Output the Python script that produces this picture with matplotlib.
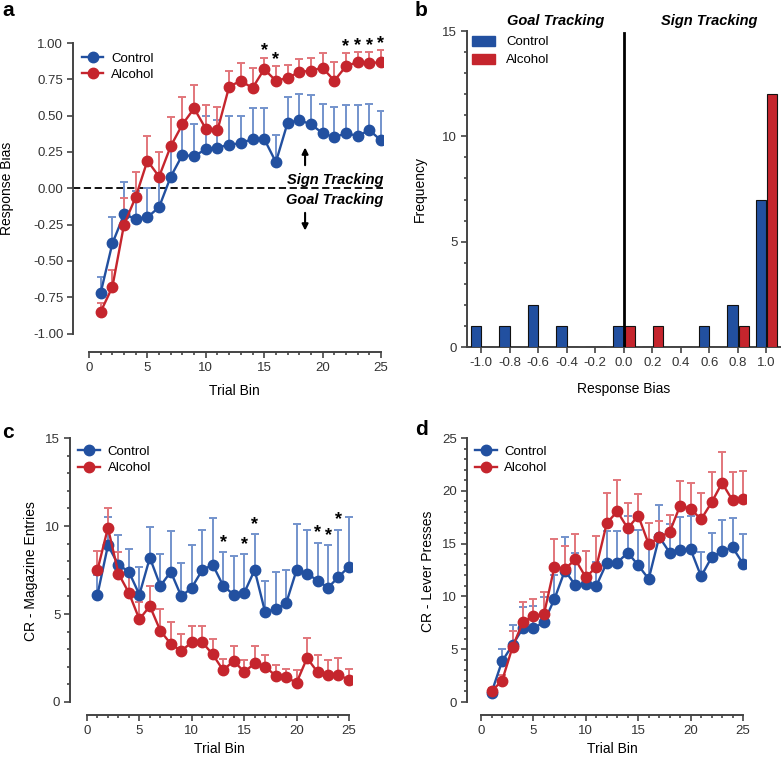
import numpy as np
import matplotlib
matplotlib.use("Agg")
import matplotlib.pyplot as plt
from matplotlib.ticker import MultipleLocator, FixedLocator
from matplotlib.patches import Patch

plt.rcParams['font.family'] = ['Liberation Sans', 'DejaVu Sans']

# colours
BLUE = '#2250a0'
BLUE_LIGHT = '#7393cc'
RED = '#c5252d'
RED_LIGHT = '#e2767b'
AXIS = '#444444'

trial_bins = np.arange(1, 26)

# panel a - response bias over trial bins (mean and top of the error bar)
bias_control = [-0.72, -0.38, -0.18, -0.21, -0.20, -0.13, 0.08, 0.23, 0.22, 0.27,
                0.28, 0.30, 0.31, 0.34, 0.34, 0.18, 0.45, 0.47, 0.44, 0.38,
                0.35, 0.38, 0.36, 0.40, 0.33]
bias_control_top = [-0.61, -0.20, 0.04, -0.02, 0.00, 0.07, 0.29, 0.45, 0.44, 0.50,
                    0.47, 0.50, 0.50, 0.55, 0.55, 0.37, 0.63, 0.65, 0.64, 0.58,
                    0.56, 0.57, 0.57, 0.58, 0.53]
bias_alcohol = [-0.85, -0.68, -0.25, -0.06, 0.19, 0.08, 0.29, 0.44, 0.55, 0.41,
                0.40, 0.70, 0.74, 0.69, 0.82, 0.74, 0.76, 0.80, 0.81, 0.83,
                0.74, 0.84, 0.87, 0.86, 0.87]
bias_alcohol_top = [-0.79, -0.56, -0.07, 0.11, 0.36, 0.25, 0.49, 0.63, 0.71, 0.57,
                    0.56, 0.81, 0.86, 0.83, 0.90, 0.84, 0.85, 0.89, 0.90, 0.93,
                    0.87, 0.93, 0.94, 0.94, 0.95]
bias_stars = [15, 16, 22, 23, 24, 25]

# panel b - histogram of response bias
bias_bins = [-1.0, -0.8, -0.6, -0.4, -0.2, 0.0, 0.2, 0.4, 0.6, 0.8, 1.0]
freq_control = [1, 1, 2, 1, 0, 1, 0, 0, 1, 2, 7]
freq_alcohol = [0, 0, 0, 0, 0, 1, 1, 0, 0, 1, 12]

# panel c - magazine entries
mag_control = [6.1, 8.9, 7.8, 7.4, 6.1, 8.2, 6.6, 7.4, 6.0, 6.5,
               7.5, 7.8, 6.6, 6.1, 6.2, 7.5, 5.1, 5.3, 5.6, 7.5,
               7.3, 6.9, 6.5, 7.1, 7.7]
mag_control_top = [7.2, 10.5, 9.5, 8.7, 7.7, 9.95, 8.4, 9.7, 7.9, 8.9,
                   9.8, 10.45, 8.5, 8.3, 8.4, 9.55, 6.9, 7.4, 7.5, 10.1,
                   9.8, 9.05, 8.9, 9.8, 10.5]
mag_alcohol = [7.5, 9.9, 7.3, 6.2, 4.7, 5.45, 4.05, 3.3, 2.9, 3.4,
               3.4, 2.7, 1.8, 2.35, 1.7, 2.2, 2.0, 1.5, 1.4, 1.1,
               2.5, 1.7, 1.55, 1.55, 1.25]
mag_alcohol_top = [8.6, 11.0, 8.5, 7.2, 5.7, 6.6, 5.3, 4.55, 3.85, 4.3,
                   4.3, 3.6, 2.45, 3.2, 2.4, 3.2, 2.65, 2.1, 1.9, 1.8,
                   3.65, 2.65, 2.4, 2.5, 1.9]
mag_stars = [13, 15, 16, 22, 23, 24]

# panel d - lever presses
lever_control = [0.9, 3.85, 5.4, 7.0, 7.0, 7.55, 9.75, 12.45, 11.05, 11.2,
                 11.0, 13.2, 13.2, 14.15, 12.95, 11.65, 15.65, 14.15, 14.4, 14.45,
                 11.9, 13.7, 14.3, 14.65, 13.1]
lever_control_top = [1.35, 5.0, 7.25, 9.0, 9.1, 9.9, 12.0, 15.6, 14.15, 14.3,
                     13.3, 16.2, 16.2, 17.6, 16.25, 14.7, 18.65, 16.85, 17.5, 17.65,
                     14.25, 16.0, 17.2, 17.4, 15.9]
lever_alcohol = [1.05, 2.0, 5.2, 7.6, 8.15, 8.3, 12.8, 12.6, 13.5, 11.8,
                 12.8, 16.95, 18.05, 16.45, 17.65, 14.95, 15.6, 16.1, 18.6, 18.3,
                 17.3, 18.9, 20.75, 19.1, 19.25]
lever_alcohol_top = [1.3, 2.55, 6.75, 9.5, 9.8, 10.4, 15.45, 14.8, 15.9, 14.3,
                     15.75, 19.8, 21.05, 18.85, 19.7, 16.95, 17.1, 17.75, 20.9, 20.7,
                     19.8, 21.75, 23.65, 21.75, 21.9]


def style_axes(ax):
    for side in ['top', 'right']:
        ax.spines[side].set_visible(False)
    for side in ['left', 'bottom']:
        ax.spines[side].set_color(AXIS)
        ax.spines[side].set_linewidth(1.4)
    ax.tick_params(which='both', direction='out', color=AXIS, width=1.2,
                   labelsize=9.5, labelcolor='#333333', pad=3)
    ax.tick_params(which='major', length=4)
    ax.tick_params(which='minor', length=2.5)


def line_panel(ax, mc, tc, ma, ta):
    for mean, top, dark, light, name, z in [(mc, tc, BLUE, BLUE_LIGHT, 'Control', 3),
                                             (ma, ta, RED, RED_LIGHT, 'Alcohol', 4)]:
        mean = np.array(mean)
        top = np.array(top)
        ax.errorbar(trial_bins, mean, yerr=[np.zeros_like(mean), top - mean],
                    fmt='none', ecolor=light, elinewidth=1.4, capsize=3,
                    capthick=1.4, zorder=2)
        ax.plot(trial_bins, mean, '-o', color=dark, lw=1.7, ms=7.5, label=name,
                zorder=z)
    ax.spines['bottom'].set_bounds(0, 25)
    ax.xaxis.set_major_locator(MultipleLocator(5))
    ax.xaxis.set_minor_locator(FixedLocator(range(0, 26)))
    ax.set_xlabel('Trial Bin', fontsize=10)


def add_stars(ax, bins, tops, offset):
    for b in bins:
        ax.text(b, tops[b - 1] + offset, '*', ha='center', va='center',
                fontsize=13, fontweight='bold', color='black')


def legend_lines(ax, y):
    ax.legend(loc='upper left', bbox_to_anchor=(0.03, y), frameon=False,
              fontsize=9.5, handlelength=1.6, borderpad=0, borderaxespad=0,
              labelspacing=0.3, handletextpad=0.6)


fig = plt.figure(figsize=(7.84, 7.58), dpi=100)

# ---- panel a
ax = fig.add_axes([0.0931, 0.5356, 0.3954, 0.4182])
style_axes(ax)
line_panel(ax, bias_control, bias_control_top, bias_alcohol, bias_alcohol_top)
ax.set_xlim(-1.37, 25.17)
ax.set_ylim(-1.127, 1.055)
ax.spines['left'].set_bounds(-1, 1)
ax.set_yticks(np.arange(-1, 1.01, 0.25))
ax.yaxis.set_major_formatter(lambda v, p: f'{v:.2f}')
ax.axhline(0, color='black', lw=1.3, ls=(0, (4, 2)), zorder=1)
add_stars(ax, bias_stars, bias_alcohol_top, 0.045)
ax.text(25.17, 0.055, 'Sign Tracking', ha='right', va='center', fontsize=10.5,
        fontweight='bold', fontstyle='italic')
ax.text(25.17, -0.083, 'Goal Tracking', ha='right', va='center', fontsize=10.5,
        fontweight='bold', fontstyle='italic')
ax.annotate('', xy=(18.5, 0.3), xytext=(18.5, 0.14),
            arrowprops=dict(arrowstyle='-|>', color='black', lw=1.5, mutation_scale=9))
ax.annotate('', xy=(18.5, -0.31), xytext=(18.5, -0.15),
            arrowprops=dict(arrowstyle='-|>', color='black', lw=1.5, mutation_scale=9))
ax.set_ylabel('Response Bias', fontsize=10)
ax.yaxis.set_label_coords(-0.19, 0.517)
ax.xaxis.set_label_coords(0.52, -0.10)
legend_lines(ax, 0.945)

# ---- panel b
ax = fig.add_axes([0.5957, 0.5422, 0.3992, 0.4169])
style_axes(ax)
x = np.array(bias_bins)
ax.bar(x - 0.037, freq_control, width=0.072, color=BLUE, edgecolor='#111111',
       linewidth=0.8, zorder=3)
ax.bar(x + 0.043, freq_alcohol, width=0.072, color=RED, edgecolor='#111111',
       linewidth=0.8, zorder=3)
ax.axvline(0, ymin=0, ymax=0.995, color='black', lw=2, zorder=4)
ax.set_xlim(-1.1, 1.097)
ax.set_ylim(0, 15)
ax.set_xticks(bias_bins)
ax.set_xticklabels([f'{v:.1f}' for v in bias_bins])
ax.set_yticks([0, 5, 10, 15])
ax.yaxis.set_minor_locator(MultipleLocator(1))
ax.set_xlabel('Response Bias', fontsize=10)
ax.xaxis.set_label_coords(0.5, -0.11)
ax.set_ylabel('Frequency', fontsize=10)
ax.yaxis.set_label_coords(-0.128, 0.5)
fig.text(556 / 784, 1 - 21 / 758, 'Goal Tracking', ha='center', va='center',
         fontsize=10.5, fontweight='bold', fontstyle='italic')
fig.text(709 / 784, 1 - 21 / 758, 'Sign Tracking', ha='center', va='center',
         fontsize=10.5, fontweight='bold', fontstyle='italic')
ax.legend(handles=[Patch(color=BLUE, label='Control'), Patch(color=RED, label='Alcohol')],
          loc='upper left', bbox_to_anchor=(0.015, 0.985), frameon=False, fontsize=9.5,
          handlelength=1.8, handleheight=0.8, borderpad=0, borderaxespad=0,
          labelspacing=0.4, handletextpad=0.8)

# ---- panel c
ax = fig.add_axes([0.0893, 0.0567, 0.3597, 0.3654])
style_axes(ax)
line_panel(ax, mag_control, mag_control_top, mag_alcohol, mag_alcohol_top)
ax.set_xlim(-1.62, 25.29)
ax.set_ylim(-0.74, 15)
ax.spines['left'].set_bounds(0, 15)
ax.set_yticks([0, 5, 10, 15])
ax.yaxis.set_minor_locator(FixedLocator(range(0, 16)))
add_stars(ax, mag_stars, mag_control_top, 0.55)
ax.set_ylabel('CR - Magazine Entries', fontsize=10)
ax.yaxis.set_label_coords(-0.113, 0.52)
ax.xaxis.set_label_coords(0.53, -0.097)
legend_lines(ax, 0.972)

# ---- panel d
ax = fig.add_axes([0.5957, 0.0567, 0.3559, 0.3654])
style_axes(ax)
line_panel(ax, lever_control, lever_control_top, lever_alcohol, lever_alcohol_top)
ax.set_xlim(-1.34, 25.29)
ax.set_ylim(-1.23, 25)
ax.spines['left'].set_bounds(0, 25)
ax.set_yticks([0, 5, 10, 15, 20, 25])
ax.yaxis.set_minor_locator(FixedLocator(range(0, 26)))
ax.set_ylabel('CR - Lever Presses', fontsize=10)
ax.yaxis.set_label_coords(-0.115, 0.52)
ax.xaxis.set_label_coords(0.52, -0.097)
legend_lines(ax, 0.972)

# panel letters
for lx, ly, letter in [(2, 10, 'a'), (415, 10, 'b'), (2, 432, 'c'), (415, 429, 'd')]:
    fig.text(lx / 784, 1 - ly / 758, letter, ha='left', va='center',
             fontsize=15, fontweight='bold')

fig.savefig('out.png', dpi=100)
